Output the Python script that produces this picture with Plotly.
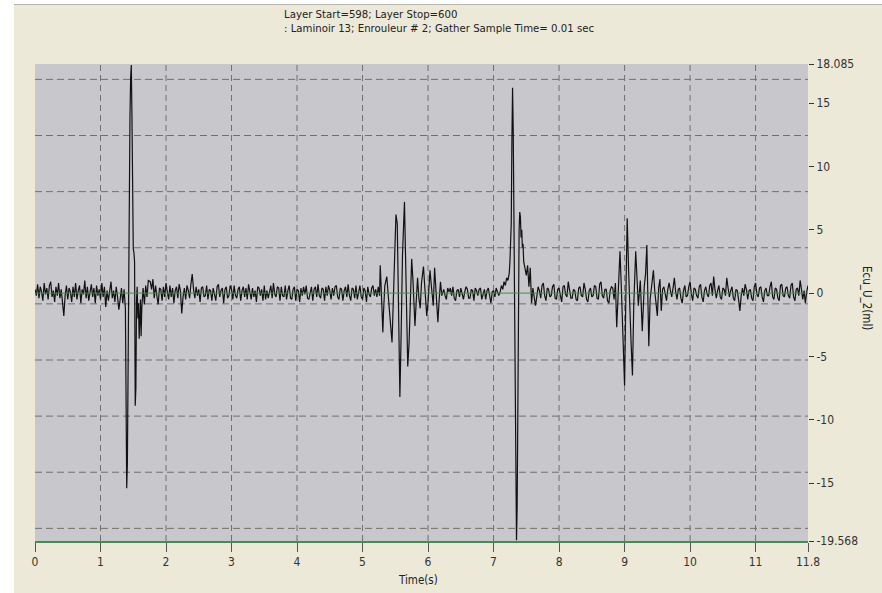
import numpy as np
import plotly.graph_objects as go

# ---------------- data ----------------
SAMPLE_STEP = 0.02  # spacing of baseline noise readings (s)

noise_a_start = 0.00
noise_a_vals = [0.3, -0.2, 0.7, -0.4, 0.5, 0.1, -0.6, 0.8, -0.1, 0.4,
                -0.5, 0.6, 0.9, -0.3, 0.2, -0.7, 0.5, -0.2, 0.8, -0.4,
                0.3, -0.6, -1.8, -0.2, 0.6, -0.5, 0.4, 0.1, -0.7, 0.5,
                -0.3, 0.8, -0.5, 0.2, 0.6, -0.8, 0.3, -0.1, 1.0, -0.4,
                0.5, -0.6, 0.2, 0.7, -0.3, 0.4, -0.8, 0.6, -0.2, 0.3,
                -0.5, 0.8, -0.3, 0.5, -1.1, 0.2, -0.6, 0.4, 0.9, -0.4,
                0.2, -0.7, 0.5, -0.3, -1.3, -0.5, 0.4, -0.8, 0.3]

burst1_t = [1.38, 1.39, 1.40, 1.41, 1.42, 1.43, 1.44, 1.45, 1.46,
            1.47, 1.48, 1.49, 1.50, 1.51, 1.52, 1.53, 1.54, 1.55, 1.56,
            1.57, 1.58, 1.59, 1.60, 1.61, 1.62, 1.63, 1.65, 1.67, 1.69,
            1.71, 1.73]
burst1_v = [-1.2, -8.0, -15.4, -13.5, -4.0, 4.0, 10.0, 14.0, 17.0,
            18.0, 14.0, 8.0, 3.5, 3.2, 2.5, -8.9, -7.5, -0.5, 0.5,
            -2.0, -0.8, -3.6, -1.0, -0.5, -3.4, -1.2, 0.4, -0.9, 0.6,
            -0.3, 1.0]

noise_b_start = 1.76
noise_b_vals = [0.9, 0.3, 1.1, -0.4, 0.6, -0.2, -0.9, 0.4, 0.3, -0.6,
                0.5, -0.3, 0.8, 0.1, -0.5, 0.6, -0.3, 0.4, -0.8, 0.2,
                0.5, -0.4, 0.7, 0.2, -1.6, -0.3, 0.4, -0.5, 0.6, 0.2,
                -0.4, 0.7, 1.5, 0.3, -0.4, 0.5, -0.2, 0.3, -0.7, 0.4,
                0.5, -0.3, -0.2, 0.6, -0.5, 0.3, 0.2, -0.6, 0.4, -0.1,
                -0.6, 0.5, 0.7, -0.3, 0.2, 0.4, -0.8, 0.3, 0.5, -0.4,
                -0.2, 0.6, 0.3, -0.5, 0.6, -0.2, -0.4, 0.3, 0.5, -0.6,
                0.2, 0.5, -0.3, 0.4, -0.5, 0.7, 0.1, -0.5, 0.4, -0.3,
                0.2, -0.7, 0.5, 0.4, -0.2, 0.3, -0.6, 0.6, -0.5, 0.2,
                -0.4, 0.3, 0.6, -0.4, 0.8, -0.1, -0.3, 0.5, 0.4, -0.6,
                0.5, -0.2, -0.3, 0.6, -0.5, 0.2, 0.6, -0.4, -0.5, 0.3,
                0.5, -0.6, 0.3, 0.2, -0.7, 0.4, -0.2, 0.5, -0.1, 0.6,
                -0.4, -0.5, 0.2, 0.5, -0.6, 0.3, 0.5, -0.3, 0.7, -0.2,
                -0.4, 0.4, 0.3, -0.6, 0.5, -0.2, 0.6, 0.2, -0.5, 0.4,
                -0.2, 0.5, 0.6, -0.3, -0.5, 0.4, 0.3, -0.6, 0.2, 0.5,
                -0.3, 0.7, -0.2, -0.6, 0.4, 0.3, -0.4, 0.6, -0.5, 0.2,
                0.6, -0.3, -0.5, 0.4, 0.2, -0.7, 0.5, -0.1, -0.3, 0.4,
                0.6, -0.2, 0.3]

burst2_t = [5.22, 5.24, 5.26, 5.27, 5.28, 5.29, 5.31, 5.32, 5.34, 5.37,
            5.39, 5.42, 5.45, 5.47, 5.49, 5.51, 5.53, 5.55, 5.57, 5.59,
            5.61, 5.64, 5.66, 5.69, 5.71, 5.73, 5.75, 5.77, 5.80, 5.82,
            5.84, 5.86, 5.88, 5.90, 5.93, 5.95, 5.98, 6.00, 6.03, 6.05,
            6.08, 6.10, 6.12, 6.15, 6.17, 6.19, 6.21]
burst2_v = [-0.3, 0.5, -0.2, 2.2, 1.0, -1.0, -3.1, -1.5, 0.6, 1.3,
            0.2, -2.0, -3.9, -0.5, 2.0, 6.2, 5.5, -2.0, -8.2, -3.0,
            3.0, 7.2, 2.0, -5.8, -4.0, 0.5, 2.7, 1.0, -2.6, -0.6,
            1.2, -0.4, -1.2, 0.8, 2.1, 0.5, -1.8, -0.7, 1.8, 0.6,
            -1.0, 2.0, 0.3, -2.3, -0.5, 0.9, -0.2]

noise_c_start = 6.24
noise_c_vals = [0.3, -0.2, -0.5, 0.4, 0.1, 0.4, -0.2, 0.5, -0.4, -0.6,
                0.2, 0.3, -0.3, 0.4, -0.2, -0.5, 0.1, 0.5, 0.3, -0.4,
                -0.4, 0.3, 0.2, -0.6, 0.4, 0.2, -0.2, 0.3, 0.4, -0.5,
                -0.1, 0.3, -0.5, 0.2, 0.4, -0.3, -0.8, 0.1, 0.2, -0.3,
                0.4, 0.1, -0.2]

burst3_t = [7.10, 7.12, 7.14, 7.16, 7.18, 7.20, 7.22, 7.24, 7.25, 7.26,
            7.27, 7.28, 7.29, 7.30, 7.31, 7.32, 7.33, 7.34, 7.35, 7.36,
            7.37, 7.38, 7.39, 7.40, 7.41, 7.42, 7.43, 7.44, 7.45, 7.46,
            7.48, 7.50, 7.52, 7.54, 7.56, 7.57, 7.58, 7.60, 7.62]
burst3_v = [0.1, 0.6, 0.3, 0.9, 0.6, 1.2, 1.0, 1.6, 2.5, 5.2,
            5.5, 12.0, 16.2, 13.0, 6.0, -4.0, -12.0, -17.2, -19.5, -17.0,
            -8.0, 0.5, 5.0, 6.4, 6.0, 4.4, 5.0, 3.6, 3.9, 2.5,
            2.0, 1.4, 2.2, 0.5, 2.0, 0.0, -0.8, 0.4, -0.5]

noise_d_start = 7.64
noise_d_vals = [-1.0, -0.3, 0.5, 0.2, -0.4, 0.6, 0.8, -0.2, -0.6, 0.4,
                0.3, -0.3, -0.2, 0.5, 0.7, -0.4, -0.5, 0.3, 0.4, -0.2,
                -0.7, 0.5, 0.6, -0.1, -0.3, 0.9, 0.2, -0.4, -0.4, 0.3,
                0.2, -0.5, -0.6, 0.4, 0.5, -0.2, -0.3, 0.8, 0.3, -0.5,
                -0.7, 0.2, 0.4, -0.3, -0.2, 0.6, 0.5, -0.4, -0.5, 0.7,
                0.9, -0.2, -0.4, 0.3, 0.3, -0.6, -0.8, 0.2, 0.5]

burst4_t = [8.82, 8.84, 8.86, 8.88, 8.90, 8.93, 8.95, 8.97, 9.00, 9.02,
            9.04, 9.06, 9.08, 9.10, 9.12, 9.14, 9.17, 9.19, 9.21, 9.24,
            9.27, 9.30, 9.32, 9.34, 9.36, 9.37, 9.39, 9.42, 9.44, 9.46,
            9.48, 9.50, 9.52, 9.54, 9.56, 9.58]
burst4_v = [0.4, -0.5, 0.8, -2.7, -0.5, 3.3, 0.5, -3.0, -7.3, 0.0,
            5.9, 2.0, -2.0, -4.0, -6.5, -1.0, 3.3, 0.5, -1.0, 1.0,
            -3.0, 0.5, 1.5, 3.8, -1.0, -4.2, -0.5, 0.8, 1.8, 0.2,
            -0.6, -1.8, 0.4, 1.1, -1.4, 0.3]

noise_e_start = 9.60
noise_e_vals = [0.5, -0.2, -0.6, 0.3, 0.8, 0.2, -0.3, 0.4, 1.2, 0.1,
                -0.5, 0.3, 0.4, -0.4, -0.8, 0.2, 0.6, -0.3, -0.2, 0.5,
                0.9, -0.1, -0.6, 0.4, 0.3, -0.2, -0.4, 0.5, 0.7, -0.3,
                -0.7, 0.2, 0.5, -0.1, -0.3, 0.6, 0.8, -0.2, 1.3, 0.3,
                -0.4, 0.2, 0.6, -0.3, -0.5, 0.4, 0.3, -0.2, 1.2, 0.4,
                -0.3, 0.2, 0.5, -0.4, -0.6, 0.3, 0.2, -0.5, -1.4, -0.2,
                0.4, -0.2, 0.7, 0.3, -0.5, 0.2, 0.3, -0.4, -0.6, 0.5,
                0.8, -0.1, -0.3, 0.4, 0.5, -0.3, -0.7, 0.2, 0.4, -0.2,
                -0.2, 0.5, 0.9, -0.3, -0.5, 0.4, 0.3, -0.4, -0.6, 0.6,
                0.7, -0.2, -0.3, 0.4, 0.5, -0.2, -0.4, 0.6, 0.8, -0.3,
                -0.6, 0.3, 0.4, -0.2, 1.0, 0.3, -0.5, 0.2, -0.8, 0.1,
                0.6]

# axis ticks
x_tickvals = [0, 1, 2, 3, 4, 5, 6, 7, 8, 9, 10, 11, 11.8]
x_ticktext = ["0", "1", "2", "3", "4", "5", "6", "7", "8", "9", "10", "11", "11.8"]
y_min, y_max = -19.568, 18.085
y_tickvals = [18.085, 15, 10, 5, 0, -5, -10, -15, -19.568]
y_ticktext = ["18.085", "15", "10", "5", "0", "-5", "-10", "-15", "-19.568"]
h_grid_vals = [16.87, 12.44, 8.01, 3.58, -0.85, -5.28, -9.71, -14.14, -18.57]
v_grid_vals = [1, 2, 3, 4, 5, 6, 7, 8, 9, 10, 11]

title_line1 = "Layer Start=598; Layer Stop=600"
title_line2 = ": Laminoir 13; Enrouleur # 2; Gather Sample Time= 0.01 sec"
x_title = "Time(s)"
y_title = "Ecu_U_2(ml)"

# ---------------- assemble series ----------------
def seg(start, vals):
    return [round(start + SAMPLE_STEP * i, 4) for i in range(len(vals))]

t_all = (seg(noise_a_start, noise_a_vals) + burst1_t +
         seg(noise_b_start, noise_b_vals) + burst2_t +
         seg(noise_c_start, noise_c_vals) + burst3_t +
         seg(noise_d_start, noise_d_vals) + burst4_t +
         seg(noise_e_start, noise_e_vals))
v_all = (noise_a_vals + burst1_v + noise_b_vals + burst2_v + noise_c_vals +
         burst3_v + noise_d_vals + burst4_v + noise_e_vals)

# ---------------- figure ----------------
W, H = 882, 593
ML, MR, MT, MB = 35, 74, 64, 52
PW, PH = W - ML - MR, H - MT - MB

def px_x(px):
    return (px - ML) / PW

def px_y(py):
    return (H - MB - py) / PH

FONT = "Liberation Sans Narrow, Arial Narrow, DejaVu Sans Condensed, sans-serif"
GREEN = "#3F8F4F"
GRID = "#707070"

fig = go.Figure()
fig.add_trace(go.Scatter(x=t_all, y=v_all, mode="lines",
                         line=dict(color="#111111", width=1.2),
                         showlegend=False, hoverinfo="skip"))

shapes = []
for gv in h_grid_vals:
    shapes.append(dict(type="line", xref="paper", yref="y", x0=0, x1=1, y0=gv, y1=gv,
                       line=dict(color=GRID, width=1, dash="7px,4px"), layer="below"))
for gx in v_grid_vals:
    shapes.append(dict(type="line", xref="x", yref="paper", x0=gx, x1=gx, y0=0, y1=1,
                       line=dict(color=GRID, width=1, dash="6px,4px"), layer="below"))
# green zero line drawn over the trace
shapes.append(dict(type="line", xref="paper", yref="y", x0=0, x1=1, y0=0, y1=0,
                   line=dict(color=GREEN, width=1), layer="above"))
# window chrome (white strips at top and left)
shapes.append(dict(type="rect", xref="paper", yref="paper",
                   x0=px_x(0), x1=px_x(W), y0=px_y(4), y1=px_y(0),
                   fillcolor="white", line=dict(width=0), layer="above"))
shapes.append(dict(type="line", xref="paper", yref="paper",
                   x0=px_x(14), x1=px_x(W), y0=px_y(4.5), y1=px_y(4.5),
                   line=dict(color="#B8B8B0", width=1), layer="above"))
shapes.append(dict(type="rect", xref="paper", yref="paper",
                   x0=px_x(0), x1=px_x(14), y0=px_y(H), y1=px_y(0),
                   fillcolor="white", line=dict(width=0), layer="above"))

annotations = [
    dict(text=title_line1, xref="paper", yref="paper", x=px_x(282), y=px_y(14.5),
         xanchor="left", yanchor="middle", showarrow=False,
         font=dict(family=FONT, size=11.3, color="#222222")),
    dict(text=title_line2, xref="paper", yref="paper", x=px_x(282), y=px_y(28.5),
         xanchor="left", yanchor="middle", showarrow=False,
         font=dict(family=FONT, size=11.3, color="#222222")),
    dict(text=x_title, xref="paper", yref="paper", x=px_x(418), y=px_y(580),
         xanchor="center", yanchor="middle", showarrow=False,
         font=dict(family=FONT, size=11.5, color="#222222")),
    dict(text=y_title, xref="paper", yref="paper", x=px_x(867), y=px_y(298),
         xanchor="center", yanchor="middle", showarrow=False, textangle=90,
         font=dict(family=FONT, size=11.5, color="#222222")),
]

fig.update_layout(
    width=W, height=H,
    margin=dict(l=ML, r=MR, t=MT, b=MB, pad=0),
    paper_bgcolor="#ECE9D8",
    plot_bgcolor="#C8C8CC",
    showlegend=False,
    shapes=shapes,
    annotations=annotations,
    xaxis=dict(range=[0, 11.8], tickmode="array", tickvals=x_tickvals, ticktext=x_ticktext,
               ticks="outside", ticklen=9, tickwidth=1, tickcolor="#555555",
               showgrid=False, zeroline=False,
               showline=True, linecolor=GREEN, linewidth=2,
               tickfont=dict(family=FONT, size=12, color="#333333"), fixedrange=True),
    yaxis=dict(range=[y_min, y_max], side="right", tickmode="array",
               tickvals=y_tickvals, ticktext=y_ticktext,
               ticks="outside", ticklen=5, tickwidth=1, tickcolor="#333333",
               showgrid=False, zeroline=False, showline=False,
               tickfont=dict(family=FONT, size=12, color="#333333"), fixedrange=True),
)

fig.write_html("out.html", config={"displayModeBar": False},
               post_script="document.body.style.margin='0';document.body.style.padding='0';")
